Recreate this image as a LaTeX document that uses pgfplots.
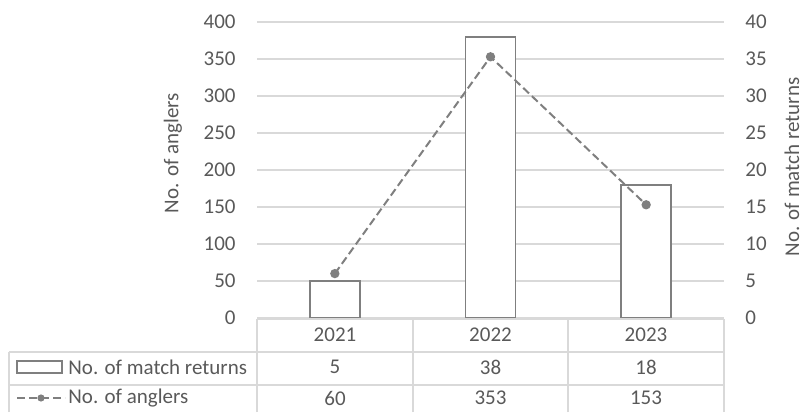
\documentclass[border=0pt]{standalone}
\usepackage{fontspec}
\setmainfont{Carlito}
\usepackage{pgfplots}
\pgfplotsset{compat=1.18}

\definecolor{txt}{HTML}{595959}
\definecolor{gridc}{HTML}{D9D9D9}
\definecolor{serc}{HTML}{7F7F7F}

\pgfplotstableread{
x year returns anglers
0 2021 5  60
1 2022 38 353
2 2023 18 153
}\datatab

\pgfplotsset{
  base/.style={
    scale only axis,
    width=233.5pt, height=148pt,
    at={(128.5pt,47pt)}, anchor=south west,
    xmin=-0.5, xmax=2.5,
    hide x axis,
    ymin=0,
    major tick length=0pt,
    y axis line style={draw=none},
    font=\fontsize{10.5}{12.6}\selectfont,
    text=txt,
    /pgf/number format/assume math mode=true,
    clip=false,
  },
}

\begin{document}
\begin{tikzpicture}
\useasboundingbox (0,0) rectangle (401pt,206pt);

% match returns: bars on the right-hand scale, with the gridlines
\begin{axis}[base,
  axis y line*=right,
  ymax=40, ytick={0,5,...,40},
  ymajorgrids, grid style={gridc, line width=0.6pt},
  yticklabel style={anchor=west, inner sep=0pt, xshift=10.5pt},
  ylabel={No. of match returns},
  ylabel style={at={(axis description cs:1.1456,0.51)}, anchor=center},
  ybar, bar width=25pt,
]
\addplot[draw=serc, fill=white, line width=0.9pt] table[x=x, y=returns] {\datatab};
\end{axis}

% anglers: dashed line on the left-hand scale
\begin{axis}[base,
  axis y line*=left,
  ymax=400, ytick={0,50,...,400},
  yticklabel style={anchor=east, inner sep=0pt, xshift=-10.5pt},
  ylabel={No. of anglers},
  ylabel style={at={(axis description cs:-0.18,0.557)}, anchor=center},
]
\addplot[draw=serc, line width=1pt, dash pattern=on 4pt off 2pt,
  mark=*, mark size=1.8pt, mark options={solid, fill=serc, draw=serc}]
  table[x=x, y=anglers] {\datatab};
\end{axis}

% data table below the plot
\begin{scope}[x=0.5pt, y=0.5pt, font=\fontsize{10.5}{12.6}\selectfont, text=txt]
  \draw[gridc, line width=0.6pt] (257,93) -- (724,93);
  \draw[gridc, line width=0.6pt] (9,60) -- (724,60);
  \draw[gridc, line width=0.6pt] (9,27) -- (724,27);
  \draw[gridc, line width=0.6pt] (9,0) -- (9,60);
  \foreach \xx in {257,413,568,724} \draw[gridc, line width=0.6pt] (\xx,0) -- (\xx,93);
  \foreach \xx/\yr/\r/\a in {335/2021/5/60, 490.5/2022/38/353, 646/2023/18/153} {
    \node at (\xx,77) {\yr};
    \node at (\xx,45) {\r};
    \node at (\xx,14) {\a};
  }
  \node[anchor=west, inner sep=0pt] at (68,45) {No. of match returns};
  \node[anchor=west, inner sep=0pt] at (68,14) {No. of anglers};
  \draw[serc, fill=white, line width=0.9pt] (17,39) rectangle (62,51);
  \draw[serc, line width=1pt, dash pattern=on 4pt off 2pt] (17,14) -- (65,14);
  \fill[serc] (41,14) circle (3.6);
\end{scope}
\end{tikzpicture}
\end{document}
